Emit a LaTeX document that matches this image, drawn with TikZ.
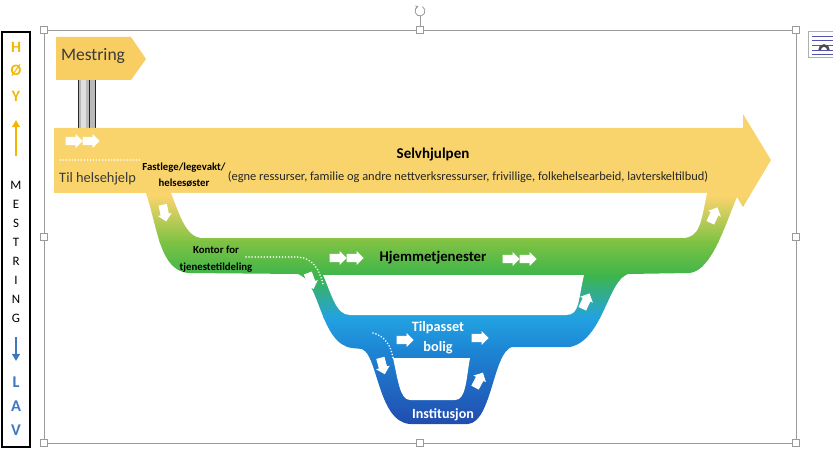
\documentclass[tikz,border=0pt]{standalone}
\usepackage{fontspec}
\setmainfont{Carlito}
\usepackage{tikz}
\usetikzlibrary{shapes.arrows,arrows.meta}

\definecolor{bandyellow}{HTML}{F9D46C}
\definecolor{signyellow}{HTML}{F8CD62}
\definecolor{greenA}{HTML}{7DC243}
\definecolor{greenB}{HTML}{3DB54B}
\definecolor{blueA}{HTML}{22A2E2}
\definecolor{blueB}{HTML}{1D86D4}
\definecolor{blueC}{HTML}{2248AC}
\definecolor{hoygold}{HTML}{F2B705}
\definecolor{lavblue}{HTML}{3E78BE}
\definecolor{framegray}{HTML}{9A9A9A}
\definecolor{textgray}{HTML}{3A3A3A}

\tikzset{
	flowarrow/.style={single arrow, fill=white, draw=none, inner sep=3.4pt, minimum height=14.5pt, minimum width=11.6pt, single arrow head extend=2.4pt},
	flowdots/.style={white, line width=1.5pt, line cap=round, dash pattern=on 0pt off 2.6pt},
	handle/.style={draw=framegray, fill=white, line width=0.5pt, minimum size=5.5pt, inner sep=0pt},
	hoyletter/.style={text=hoygold, font=\fontsize{13.5}{13.5}\selectfont\bfseries},
	mestletter/.style={font=\fontsize{11}{11}\selectfont},
	lavletter/.style={text=lavblue, font=\fontsize{14}{14}\selectfont\bfseries},
	smallbold/.style={font=\fontsize{9.2}{14}\selectfont\bfseries, align=center, inner sep=0pt},
	whitelabel/.style={text=white, font=\fontsize{12.2}{17}\selectfont\bfseries, align=center, inner sep=0pt},
}

\begin{document}
\begin{tikzpicture}[x=0.03cm,y=-0.03cm]
	\useasboundingbox (0,0) rectangle (833,454);
	% Scale on the left
	\draw[line width=0.9pt] (2,32) rectangle (30,447);
	\foreach \ch/\yy [count=\i] in {H/47,Ø/71,Y/96} \node[hoyletter] (hoy\i) at (16,\yy) {\ch};
	\foreach \ch [count=\i] in {M,E,S,T,R,I,N,G} \node[mestletter] (mest\i) at (16,{166+19*\i}) {\ch};
	\foreach \ch/\yy [count=\i] in {L/382,A/406,V/430} \node[lavletter] (lav\i) at (16,\yy) {\ch};
	\coordinate (upbot) at (16,156);
	\coordinate (uptop) at (16,120);
	\coordinate (downtop) at (16,337);
	\coordinate (downbot) at (16,361);
	\draw[hoygold, line width=1.8pt, -{Triangle[width=6.5pt,length=6pt]}] (upbot) -- (uptop);
	\draw[lavblue, line width=1.8pt, -{Triangle[width=6.5pt,length=6pt]}] (downtop) -- (downbot);
	% Selection frame
	\draw[framegray, line width=0.6pt] (44,30) rectangle (796,443);
	\coordinate (rot) at (420,11);
	\draw[framegray, line width=0.6pt] (420,30) -- (420,16.5);
	\draw[framegray, line width=0.7pt, -{Stealth[length=2.5pt,width=3pt]}] (rot) ++(-60:5) arc (-60:250:5);
	\foreach \hx/\hy [count=\k] in {44/30,420/30,796/30,44/237,796/237,44/443,420/443,796/443}
		\node[handle] (hdl\k) at (\hx,\hy) {};
	% Layout icon
	\draw[framegray!80, fill=white, line width=0.5pt] (808,31) rectangle (834,57);
	\foreach \ly in {36,40,45,50,54} \draw[blue!35!gray, line width=0.6pt] (812,\ly) -- (834,\ly);
	\draw[gray!60!black, line width=2.2pt] (819.5,50) arc (180:360:4.5);
	% Signpost
	\fill[gray!55] (78,78) rectangle (95,130);
	\fill[gray!25] (81,78) rectangle (86,130);
	\draw[gray!30!black, line width=0.5pt] (78,78) -- (78,130) (95,78) -- (95,130) (89,78) -- (89,130);
	\fill[signyellow] (56,37) -- (131,37) -- (146,59) -- (131,80) -- (56,80) -- cycle;
	\node[text=textgray, font=\fontsize{15}{15}\selectfont] (mestring) at (93,56) {Mestring};
	% Band with gradient
	\begin{scope}
		\clip (54,128) -- (743,128) -- (743,114) -- (771,160) -- (743,207) -- (737,197)
			.. controls (725,225) and (712,270) .. (690,273) -- (628,274)
			.. controls (608,280) and (603,340) .. (570,347) -- (512,347)
			.. controls (493,352) and (492,422) .. (468,424) -- (410,424)
			.. controls (378,422) and (378,355) .. (362,349) -- (352,348)
			.. controls (320,344) and (320,280) .. (298,274) -- (188,273)
			.. controls (160,270) and (158,230) .. (146,193) -- (54,193) -- cycle;
		\fill[bandyellow] (50,100) rectangle (780,197);
		\shade[top color=bandyellow, bottom color=greenA] (50,196) rectangle (780,243);
		\shade[top color=greenA, bottom color=greenB] (50,242) rectangle (780,276);
		\shade[top color=greenB, bottom color=blueA] (50,275) rectangle (780,318);
		\shade[top color=blueA, bottom color=blueB] (50,317) rectangle (780,350);
		\shade[top color=blueB, bottom color=blueC] (50,349) rectangle (780,430);
	\end{scope}
	% Holes
	\fill[white] (171,193) -- (707,193) .. controls (701,222) and (700,238) .. (682,238) -- (203,238)
		.. controls (186,238) and (180,215) .. (171,193) -- cycle;
	\fill[white] (323,275) -- (584,275) .. controls (578,300) and (580,315) .. (566,315) -- (350,315)
		.. controls (336,315) and (332,295) .. (323,275) -- cycle;
	\fill[white] (393,358) -- (470,358) .. controls (466,380) and (466,400) .. (455,400) -- (410,400)
		.. controls (400,400) and (398,380) .. (393,358) -- cycle;
	% Dotted paths
	\draw[flowdots] (60,160) -- (142,160);
	\draw[flowdots] (246,257) -- (298,257) .. controls (312,258) and (319,268) .. (323,284);
	\draw[flowdots] (373,333) .. controls (385,336) and (391,346) .. (393,358);
	% Arrows
	\foreach \ax/\ay/\ang [count=\k] in {72/141/0,89/141/0,336/258/0,353/258/0,509/259/0,526/259/0,403/340/0,478/338/0,
		164/211/-78,310/279/-70,382/364/-75,478/382/62,585/303/65,713/217/65}
		\node[flowarrow, rotate=\ang] (arr\k) at (\ax,\ay) {};
	% Labels
	\node[font=\fontsize{12.8}{12.8}\selectfont\bfseries] (selv) at (433,155) {Selvhjulpen};
	\node[text=black!85, font=\fontsize{10.6}{10.6}\selectfont] (egne) at (468,177) {(egne ressurser, familie og andre nettverksressurser, frivillige, folkehelsearbeid, lavterskeltilbud)};
	\node[text=textgray, font=\fontsize{12.3}{12.3}\selectfont, anchor=west, inner sep=0pt] (til) at (59,179) {Til helsehjelp};
	\node[smallbold] (fast) at (184,175) {Fastlege/legevakt/\\helsesøster};
	\node[smallbold] (kontor) at (216,259) {Kontor for\\tjenestetildeling};
	\node[font=\fontsize{12.6}{12.6}\selectfont\bfseries] (hjem) at (433,258) {Hjemmetjenester};
	\node[whitelabel] (tilp) at (438,338) {Tilpasset\\bolig};
	\node[whitelabel, font=\fontsize{12}{12}\selectfont\bfseries] (inst) at (443,415) {Institusjon};
\end{tikzpicture}
\end{document}
